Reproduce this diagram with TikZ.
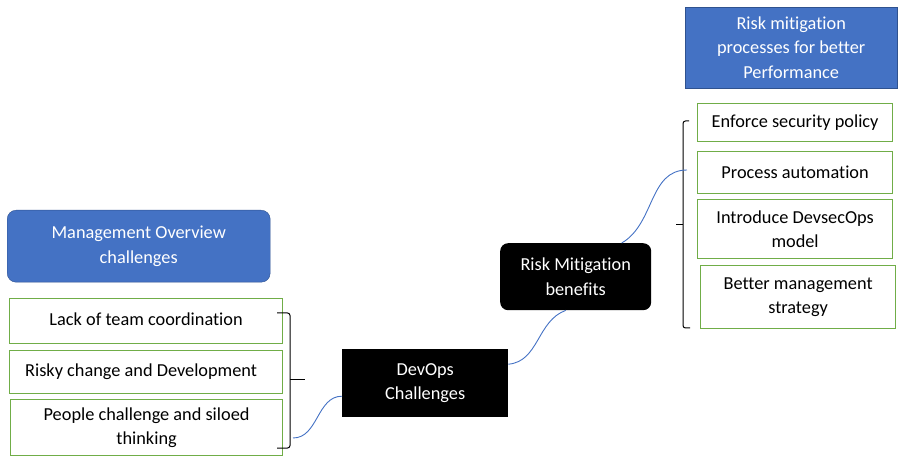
\documentclass[tikz,border=0pt]{standalone}
\usepackage{fontspec}
\setmainfont{Carlito}[Ligatures=NoCommon]
\usetikzlibrary{positioning}

\definecolor{headblue}{HTML}{4472C4}
\definecolor{headedge}{HTML}{2F528F}
\definecolor{itemgreen}{HTML}{70AD47}

\begin{document}
\begin{tikzpicture}[x=1pt,y=-1pt,font=\fontsize{18.3}{24.5}\selectfont,
    head/.style={fill=headblue,draw=headedge,text=white,align=center,anchor=north west,inner sep=0pt},
    item/.style={draw=itemgreen,line width=1.2pt,align=center,anchor=north west,inner sep=0pt},
    hub/.style={fill=black,text=white,align=center,anchor=north west,inner sep=0pt},
    link/.style={draw=headblue,line width=0.9pt},
    bracket/.style={draw=black,line width=1pt,rounded corners=2.5pt}]
\useasboundingbox (0,0) rectangle (898,457);

% left column
\node[head,rounded corners=9pt,minimum width=263pt,minimum height=72pt] (mgmt) at (7,210) {Management Overview\\challenges};
\node[item,minimum width=273pt,minimum height=45pt] (lack) at (9,298) {Lack of team coordination\vphantom{p}};
\node[item,minimum width=273pt,minimum height=43pt] (risky) at (9,350) {Risky change and Development\hspace{10pt}};
\node[item,minimum width=272pt,minimum height=56pt] (people) at (10,399) {People challenge and siloed\\thinking};

% middle
\node[hub,minimum width=166pt,minimum height=68pt] (devops) at (342,349) {DevOps\\Challenges};
\node[hub,rounded corners=8pt,minimum width=151pt,minimum height=67pt] (benefit) at (500,243) {Risk Mitigation\\benefits};

% right column
\node[head,minimum width=212pt,minimum height=81pt] (proc) at (685,7) {Risk mitigation\\processes for better\\Performance};
\node[item,minimum width=195pt,minimum height=38pt] (enforce) at (697,103) {Enforce security policy};
\node[item,minimum width=195pt,minimum height=42pt] (auto) at (697,151) {Process automation};
\node[item,minimum width=195pt,minimum height=59pt] (devsec) at (697,199) {Introduce DevsecOps\\model};
\node[item,minimum width=195pt,minimum height=63pt] (better) at (700,265) {Better management\\strategy};

% braces
\draw[bracket] (277,313) -- (290,313) -- (290,448) -- (277,448);
\draw[bracket] (290,380) -- (305,380);
\draw[bracket] (689,121) -- (683,121) -- (683,328) -- (690,328);
\draw[bracket] (683,225) -- (676,225);
\coordinate (lfoot) at (293,438);
\coordinate (rtop) at (687,170);

% links
\draw[link] (lfoot) to[out=0,in=180] ([yshift=-13pt]devops.west);
\draw[link] ([yshift=19pt]devops.east) to[out=5,in=200] ([xshift=-10pt]benefit.south);
\draw[link] ([xshift=46pt]benefit.north) to[out=30,in=180] (rtop);
\end{tikzpicture}
\end{document}
